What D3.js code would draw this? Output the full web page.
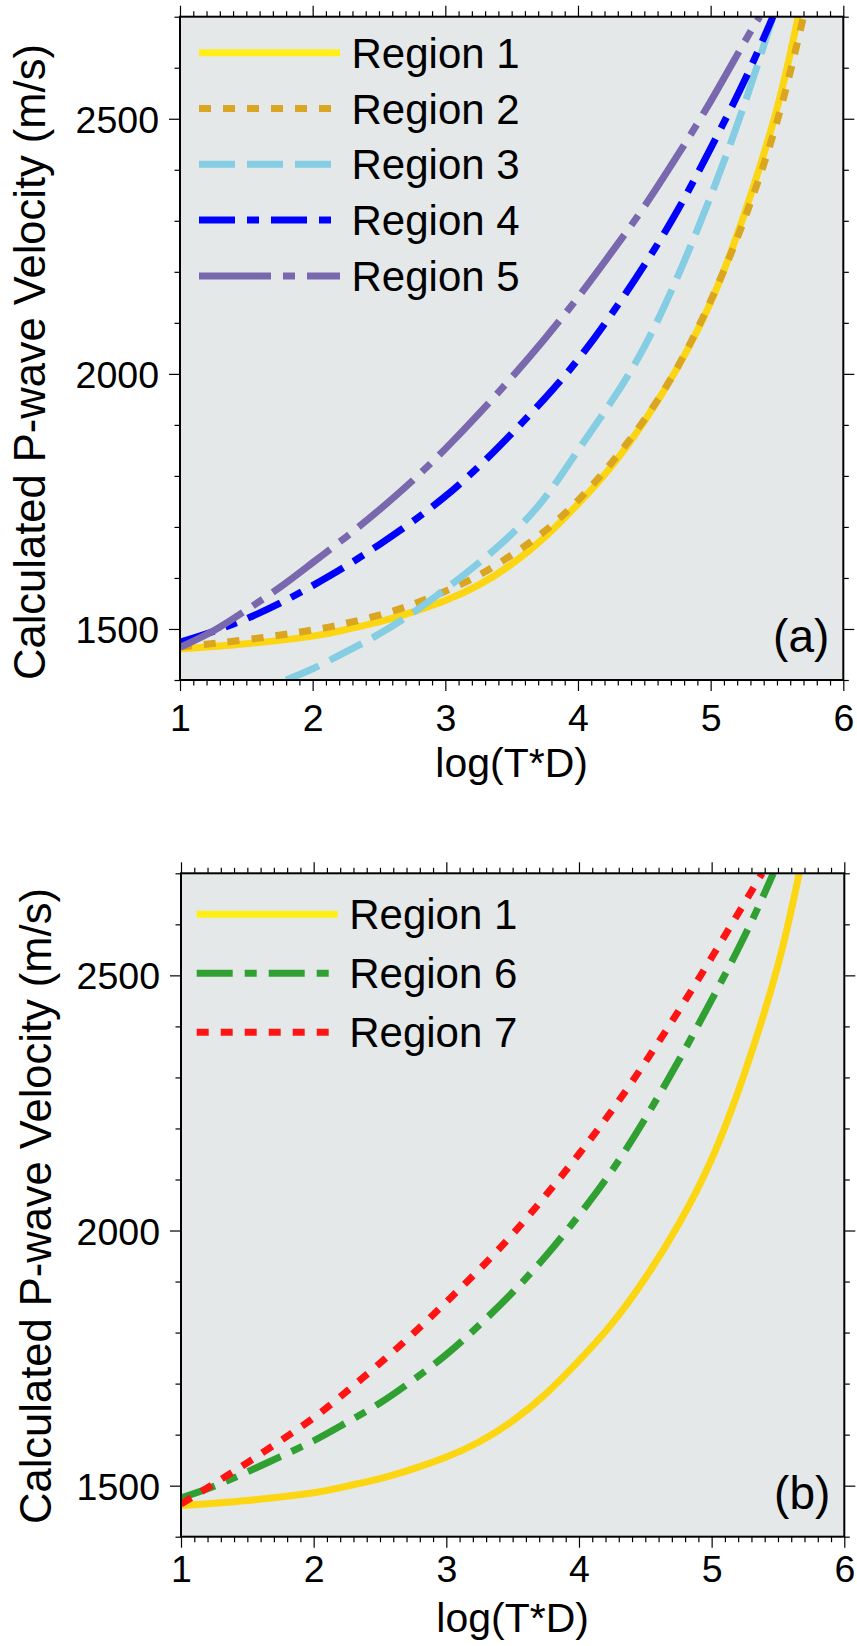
<!DOCTYPE html>
<html>
<head>
<meta charset="utf-8">
<script src="https://cdn.jsdelivr.net/npm/d3@7"></script>
<style>
  body { margin: 0; background: #fff; }
  svg { display: block; font-family: "Liberation Sans", Arial, Helvetica, sans-serif; }
</style>
</head>
<body>
<svg id="chart"></svg>
<script>
const width = 857, height = 1646; // Size of the page

// Data section: [log(T*D), velocity m/s] *************************************************
const region1 = [[1.0,1461],[1.5,1471],[2.0,1486],[2.25,1499],[2.5,1514],[2.75,1533],[3.0,1556],[3.25,1586],
                 [3.5,1627],[3.75,1680],[4.0,1745],[4.25,1818],[4.5,1907],[4.75,2012],[5.0,2140],[5.25,2310],
                 [5.5,2520],[5.66,2700]];
const region2 = [[1.0,1465],[1.5,1479],[2.0,1498],[2.25,1511],[2.5,1527],[2.75,1548],[3.0,1574],[3.25,1605],
                 [3.5,1645],[3.75,1692],[4.0,1752],[4.25,1825],[4.5,1910],[4.75,2013],[5.0,2143],[5.25,2300],
                 [5.5,2494],[5.70,2700]];
const region3 = [[1.80,1400],[2.0,1422],[2.25,1455],[2.5,1490],[2.75,1531],[3.0,1578],[3.25,1629],[3.5,1686],
                 [3.75,1757],[4.0,1850],[4.25,1945],[4.5,2053],[4.75,2190],[5.0,2348],[5.25,2525],[5.47,2700]];
const region4 = [[1.0,1474],[1.25,1495],[1.5,1520],[1.75,1550],[2.0,1585],[2.25,1623],[2.5,1665],[2.75,1710],
                 [3.0,1760],[3.25,1818],[3.5,1883],[3.75,1952],[4.0,2028],[4.25,2116],[4.5,2213],[4.75,2320],
                 [5.0,2442],[5.25,2572],[5.47,2700]];
const region5 = [[1.0,1464],[1.25,1496],[1.5,1537],[1.75,1581],[2.0,1630],[2.25,1680],[2.5,1733],[2.75,1790],
                 [3.0,1853],[3.25,1921],[3.5,1993],[3.75,2069],[4.0,2150],[4.25,2237],[4.5,2328],[4.75,2428],
                 [5.0,2534],[5.25,2648],[5.37,2700]];
const region6 = [[1.0,1476],[1.25,1499],[1.5,1527],[1.75,1557],[2.0,1588],[2.25,1624],[2.5,1662],[2.75,1707],
                 [3.0,1757],[3.25,1815],[3.5,1879],[3.75,1950],[4.0,2030],[4.25,2118],[4.5,2220],[4.75,2332],
                 [5.0,2452],[5.25,2578],[5.465,2700]];
const region7 = [[1.0,1464],[1.25,1504],[1.5,1545],[1.75,1588],[2.0,1633],[2.25,1685],[2.5,1740],[2.75,1798],
                 [3.0,1860],[3.25,1924],[3.5,1993],[3.75,2069],[4.0,2150],[4.25,2236],[4.5,2330],[4.75,2430],
                 [5.0,2535],[5.25,2643],[5.38,2700]];

const xDomain = [1, 6];
const yDomain = [1400, 2700];
const xTicks = [1, 2, 3, 4, 5, 6];
const yTicks = [1500, 2000, 2500];
const xLabel = "log(T*D)";
const yLabel = "Calculated P-wave Velocity (m/s)";

// Styles per series (kept apart from the data)
const styles = {
    "Region 1": { data: region1, color: "#fcd612", legendColor: "#ffef17", dash: null },
    "Region 2": { data: region2, color: "#daa520", dash: "12,12" },
    "Region 3": { data: region3, color: "#85cde2", dash: "36,12" },
    "Region 4": { data: region4, color: "#0000ff", dash: "36,12,12,12" },
    "Region 5": { data: region5, color: "#7a68af", dash: "72,12,12,12" },
    "Region 6": { data: region6, color: "#31a032", dash: "36,12,12,12" },
    "Region 7": { data: region7, color: "#ff1414", dash: "12,12" }
};

// Panel layout (pixel boxes measured on the figure)
const panels = [
    { name: "(a)", left: 180, top: 16.7, w: 663.3, h: 663.3,
      series: ["Region 1", "Region 2", "Region 3", "Region 4", "Region 5"],
      legend: { x: 19, y: 36, step: 55.8 }, titleX: 45, titleY: 362, xLabPad: 13, xTitleDy: 97 },
    { name: "(b)", left: 181, top: 873.3, w: 663.3, h: 663.4,
      series: ["Region 1", "Region 6", "Region 7"],
      legend: { x: 15.7, y: 41, step: 59 }, titleX: 51, titleY: 1206, xLabPad: 8, xTitleDy: 95 }
];

const svg = d3.select("#chart").attr("width", width).attr("height", height);

// Minor tick values
const xMinor = d3.range(10, 61).map(d => d / 10).filter(d => !xTicks.includes(d));
const yMinor = d3.range(1400, 2701, 100).filter(d => !yTicks.includes(d));

panels.forEach((p, i) => {
    const g = svg.append("g").attr("transform", `translate(${p.left},${p.top})`);
    const x = d3.scaleLinear().domain(xDomain).range([0, p.w]);
    const y = d3.scaleLinear().domain(yDomain).range([p.h, 0]);

    // Grey plot background
    g.append("rect").attr("width", p.w).attr("height", p.h).attr("fill", "#e4e8e9");

    // Clip curves to the frame
    const clipId = "clip" + i;
    g.append("clipPath").attr("id", clipId)
        .append("rect").attr("width", p.w).attr("height", p.h);

    const line = d3.line()
        .x(d => x(d[0]))
        .y(d => y(d[1]))
        .curve(d3.curveNatural);

    const curves = g.append("g").attr("clip-path", `url(#${clipId})`);
    p.series.forEach(name => {
        const s = styles[name];
        curves.append("path")
            .datum(s.data)
            .attr("d", line)
            .attr("fill", "none")
            .attr("stroke", s.color)
            .attr("stroke-width", 7)
            .attr("stroke-dasharray", s.dash)
            .attr("stroke-linecap", "butt");
    });

    // Axes: major + minor ticks on all four sides, pointing outward
    function addAxis(axisFn, scale, major, minor, transform, labels) {
        const maj = g.append("g").attr("transform", transform)
            .call(axisFn(scale).tickValues(major).tickSize(11).tickSizeOuter(0)
                .tickPadding(axisFn === d3.axisBottom ? p.xLabPad : 10)
                .tickFormat(labels ? d3.format("d") : ""));
        const mnr = g.append("g").attr("transform", transform)
            .call(axisFn(scale).tickValues(minor).tickSize(5.5).tickSizeOuter(0).tickFormat(""));
        [maj, mnr].forEach(a => {
            a.select(".domain").remove();
            a.selectAll("line").attr("stroke", "#000").attr("stroke-width", 1.2);
        });
        maj.selectAll("text").attr("font-size", 37.5).attr("fill", "#000")
            .attr("font-family", "Liberation Sans, Arial, sans-serif");
        return maj;
    }
    addAxis(d3.axisBottom, x, xTicks, xMinor, `translate(0,${p.h})`, true);
    addAxis(d3.axisTop, x, xTicks, xMinor, "translate(0,0)", false);
    const yAx = addAxis(d3.axisLeft, y, yTicks, yMinor, "translate(0,0)", true);
    yAx.selectAll("text").attr("dy", "0.36em");
    addAxis(d3.axisRight, y, yTicks, yMinor, `translate(${p.w},0)`, false);

    // Frame
    g.append("rect").attr("width", p.w).attr("height", p.h)
        .attr("fill", "none").attr("stroke", "#000").attr("stroke-width", 2);

    // Legend
    p.series.forEach((name, k) => {
        const s = styles[name];
        const ly = p.legend.y + k * p.legend.step;
        g.append("line")
            .attr("x1", p.legend.x).attr("x2", p.legend.x + 141)
            .attr("y1", ly).attr("y2", ly)
            .attr("stroke", s.legendColor || s.color)
            .attr("stroke-width", 7)
            .attr("stroke-dasharray", s.dash);
        g.append("text")
            .attr("x", p.legend.x + 152.5).attr("y", ly).attr("dy", "0.36em")
            .attr("font-size", 42).text(name);
    });

    // Panel letter
    g.append("text")
        .attr("x", p.w - 14).attr("y", p.h - 28)
        .attr("text-anchor", "end").attr("font-size", 46).text(p.name);

    // Axis titles
    g.append("text")
        .attr("x", p.w / 2).attr("y", p.h + p.xTitleDy)
        .attr("text-anchor", "middle").attr("font-size", 41).text(xLabel);

    svg.append("text")
        .attr("transform", `translate(${p.titleX},${p.titleY}) rotate(-90)`)
        .attr("text-anchor", "middle").attr("font-size", 43.5).text(yLabel);
});
</script>
</body>
</html>
